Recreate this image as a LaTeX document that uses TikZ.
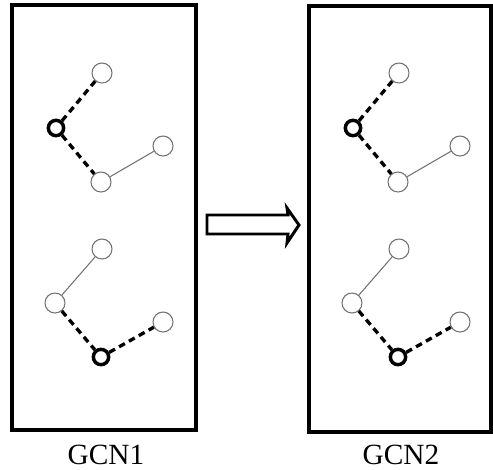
\documentclass[tikz,border=0pt]{standalone}
\usepackage{fontspec}
\setmainfont{Liberation Serif}
\begin{document}
\begin{tikzpicture}[x=0.75pt,y=-0.75pt,
  thinnode/.style={circle,draw=black!55,line width=0.8pt,fill=white,minimum size=15pt,inner sep=0pt},
  boldnode/.style={circle,draw=black,line width=2.6pt,fill=white,minimum size=11.5pt,inner sep=0pt},
  dashedge/.style={draw=black,line width=2.5pt,dash pattern=on 5pt off 3.5pt},
  thinedge/.style={draw=black!55,line width=0.8pt},
  panel/.style={draw=black,line width=2.5pt},
  lbl/.style={font=\fontsize{22}{26}\selectfont,inner sep=0pt}]
\useasboundingbox (0,0) rectangle (493,469);
% panels
\draw[panel] (12,5) rectangle (196,430);
\draw[panel] (309,6) rectangle (491,432);
\node[lbl] (l1) at (106,455) {GCN1};
\node[lbl] (l2) at (401,455) {GCN2};
% arrow
\draw[line width=2.2pt,line join=miter] (207,215) -- (288,215) -- (287,208) -- (299,225) -- (287,243) -- (288,234) -- (207,234) -- cycle;
% graphs
\foreach \s/\i in {0/1,297/2}{
\begin{scope}[xshift=\s*0.75pt]
\node[thinnode] (a\i) at (102,73) {};
\node[boldnode] (b\i) at (56,128) {};
\node[thinnode] (c\i) at (163,146) {};
\node[thinnode] (d\i) at (101,182) {};
\node[thinnode] (e\i) at (102,249) {};
\node[thinnode] (f\i) at (55,303) {};
\node[thinnode] (g\i) at (163,322) {};
\node[boldnode] (h\i) at (101,357) {};
\draw[dashedge] (b\i) -- (a\i);
\draw[dashedge] (b\i) -- (d\i);
\draw[thinedge] (d\i) -- (c\i);
\draw[thinedge] (f\i) -- (e\i);
\draw[dashedge] (f\i) -- (h\i);
\draw[dashedge] (h\i) -- (g\i);
\end{scope}
}
\end{tikzpicture}
\end{document}
